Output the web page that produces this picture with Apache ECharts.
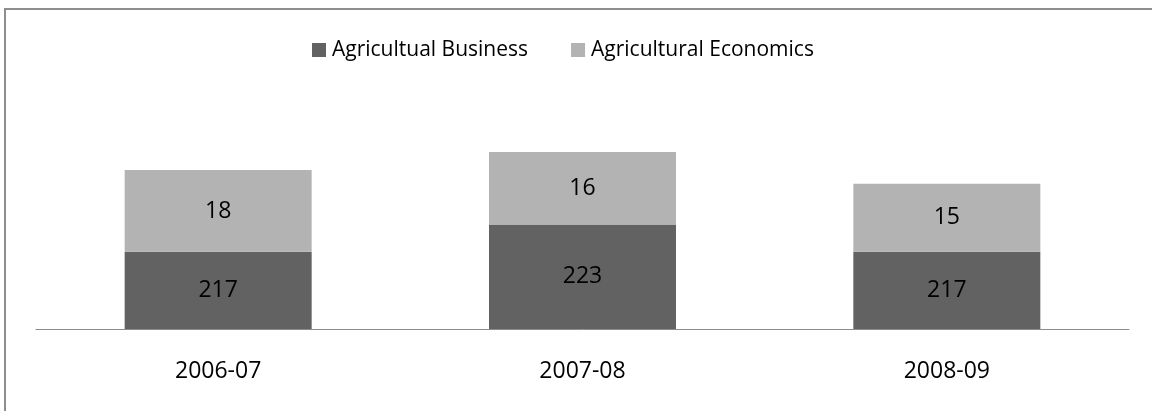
<!DOCTYPE html>
<html>
<head>
<meta charset="utf-8">
<script src="https://cdn.jsdelivr.net/npm/echarts@6/dist/echarts.min.js"></script>
<style>
  html, body { margin: 0; padding: 0; background: #ffffff; }
  #chart { width: 1152px; height: 411px; }
</style>
</head>
<body>
<div id="chart"></div>
<script>
// Enrolment by academic year, stacked by programme
const years = ['2006-07', '2007-08', '2008-09'];
const seriesNames = ['Agricultual Business', 'Agricultural Economics'];
const businessValues = [217, 223, 217];
const economicsValues = [18, 16, 15];

const FONT = '"Open Sans", "Noto Sans", sans-serif';

const chart = echarts.init(document.getElementById('chart'), null, { renderer: 'canvas' });

chart.setOption({
  animation: false,
  backgroundColor: '#ffffff',
  textStyle: { fontFamily: FONT },
  graphic: [
    // frame: left and top edges
    { type: 'line', shape: { x1: 5, y1: 9, x2: 5, y2: 420 }, style: { stroke: '#8e8e8e', lineWidth: 2 } },
    { type: 'line', shape: { x1: 4, y1: 9, x2: 1160, y2: 9 }, style: { stroke: '#8e8e8e', lineWidth: 2 } }
  ],
  legend: {
    data: seriesNames,
    left: 307,
    top: 33,
    icon: 'rect',
    itemWidth: 14,
    itemHeight: 14,
    itemGap: 43,
    textStyle: { fontFamily: FONT, fontSize: 21, color: '#000000', lineHeight: 24, padding: [0, 0, 0, 1] }
  },
  grid: { left: 36, right: 23, top: 102, bottom: 82, containLabel: false },
  xAxis: {
    type: 'category',
    data: years,
    axisLine: { show: true, lineStyle: { color: '#8c8c8c', width: 1 } },
    axisTick: { show: false },
    axisLabel: { fontFamily: FONT, fontSize: 23, color: '#000000', margin: 31 }
  },
  yAxis: {
    type: 'value',
    min: 200,
    max: 250,
    show: false,
    splitLine: { show: false }
  },
  series: [
    {
      name: seriesNames[0],
      type: 'bar',
      stack: 'total',
      barWidth: 187,
      data: businessValues,
      itemStyle: { color: '#626262' },
      label: { show: true, position: 'inside', fontFamily: FONT, fontSize: 23, color: '#000000' }
    },
    {
      name: seriesNames[1],
      type: 'bar',
      stack: 'total',
      barWidth: 187,
      data: economicsValues,
      itemStyle: { color: '#b3b3b3' },
      label: { show: true, position: 'inside', fontFamily: FONT, fontSize: 23, color: '#000000' }
    }
  ]
});
</script>
</body>
</html>
